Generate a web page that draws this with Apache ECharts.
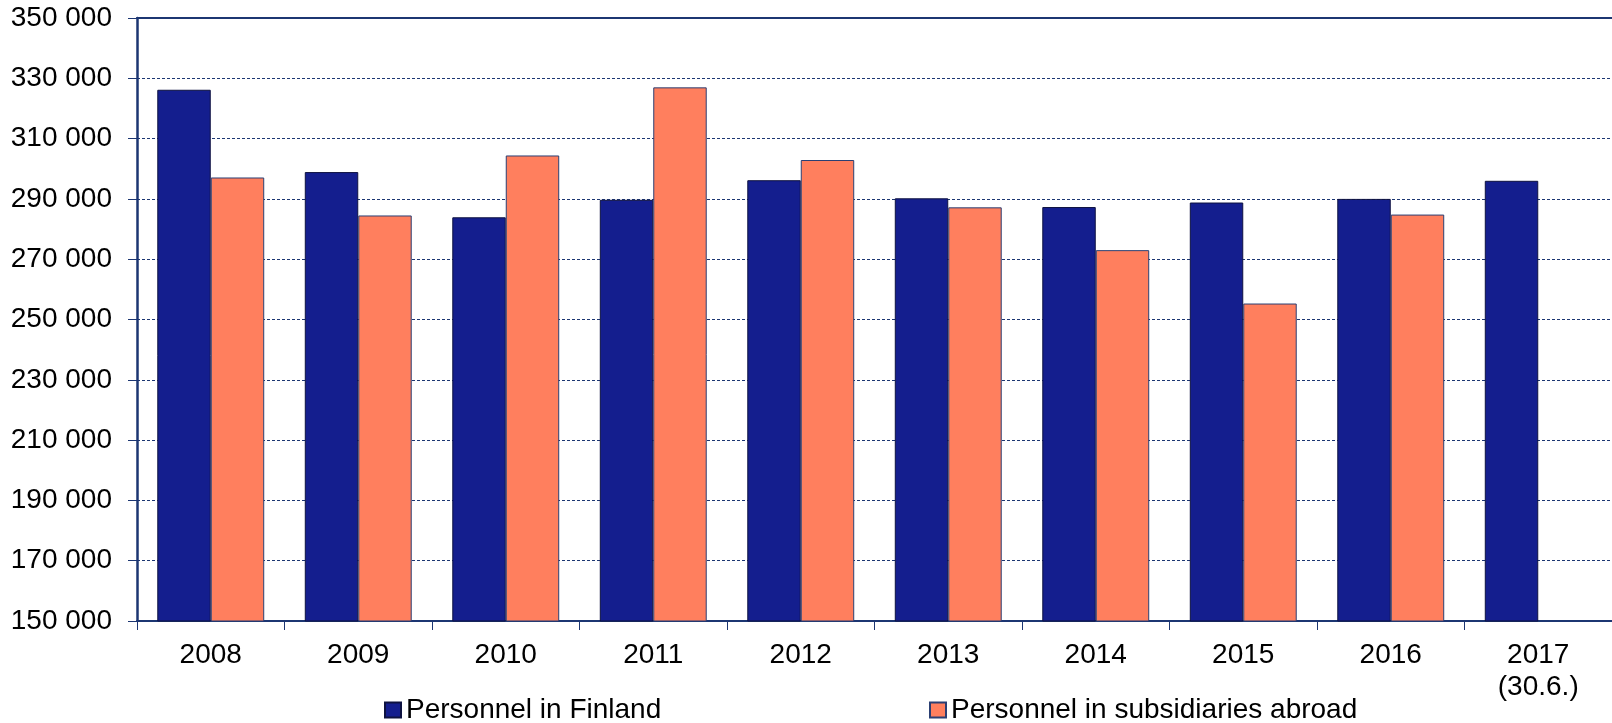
<!DOCTYPE html>
<html>
<head>
<meta charset="utf-8">
<script src="https://cdn.jsdelivr.net/npm/echarts@6/dist/echarts.min.js"></script>
<style>
  html, body { margin: 0; padding: 0; background: #ffffff; }
</style>
</head>
<body>
<div id="container-chart" style="width: 1612px; height: 723px"></div>
<script>
// categories and values
const years = ['2008', '2009', '2010', '2011', '2012', '2013', '2014', '2015', '2016', '2017\n(30.6.)'];
const personnelFinland = [326200, 298900, 283900, 289700, 296200, 290200, 287300, 288800, 290000, 296000];
const personnelAbroad = [297100, 284500, 304400, 327000, 302900, 287200, 273000, 255300, 284800, null];
const yTicks = [150000, 170000, 190000, 210000, 230000, 250000, 270000, 290000, 310000, 330000, 350000];

const axisColor = '#1c3672';
const fontFamily = 'Liberation Sans, Arial, sans-serif';

let chartDom = document.getElementById('container-chart');
let myChart = echarts.init(chartDom, null, { renderer: 'canvas' });
let option;
option = {
  backgroundColor: '#ffffff',
  animation: false,
  grid: {
    left: 137,
    right: 0,
    top: 18,
    bottom: 102,
  },
  legend: [
    {
      data: ['Personnel in Finland'],
      left: 384,
      top: 696,
      padding: 0,
      icon: 'rect',
      itemWidth: 16,
      itemHeight: 15,
      textStyle: { fontSize: 28, color: '#000000', fontFamily: fontFamily },
    },
    {
      data: ['Personnel in subsidiaries abroad'],
      left: 929,
      top: 696,
      padding: 0,
      icon: 'rect',
      itemWidth: 16,
      itemHeight: 15,
      textStyle: { fontSize: 28, color: '#000000', fontFamily: fontFamily },
    },
  ],
  xAxis: [
    {
      type: 'category',
      data: years,
      axisLine: { lineStyle: { color: axisColor, width: 2 } },
      axisTick: { show: true, length: 9, lineStyle: { color: axisColor, width: 1 } },
      axisLabel: {
        color: '#000000',
        fontSize: 28,
        lineHeight: 32,
        margin: 18,
        fontFamily: fontFamily,
      },
    },
    {
      // top frame line only
      type: 'category',
      position: 'top',
      data: years,
      axisLine: { lineStyle: { color: axisColor, width: 2 } },
      axisTick: { show: false },
      axisLabel: { show: false },
    },
  ],
  yAxis: {
    type: 'value',
    min: 150000,
    max: 350000,
    axisLine: { show: true, lineStyle: { color: axisColor, width: 2.5 } },
    axisTick: { show: true, length: 9, customValues: yTicks, lineStyle: { color: axisColor, width: 1 } },
    axisLabel: {
      customValues: yTicks,
      color: '#000000',
      fontSize: 28,
      margin: 25,
      fontFamily: fontFamily,
      formatter: (v) => String(v).replace(/\B(?=(\d{3})+(?!\d))/g, ' '),
    },
    splitLine: {
      show: true,
      lineStyle: { color: axisColor, width: 1, type: [3, 2] },
    },
  },
  series: [
    {
      name: 'Personnel in Finland',
      type: 'bar',
      data: personnelFinland,
      barGap: '0%',
      barCategoryGap: '27.5%',
      itemStyle: { color: '#141e8e', borderColor: '#0e1240', borderWidth: 1 },
    },
    {
      name: 'Personnel in subsidiaries abroad',
      type: 'bar',
      data: personnelAbroad,
      barGap: '0%',
      barCategoryGap: '27.5%',
      itemStyle: { color: '#ff7f5e', borderColor: '#2b3f73', borderWidth: 1 },
    },
  ],
};

option && myChart.setOption(option);
</script>
</body>
</html>
